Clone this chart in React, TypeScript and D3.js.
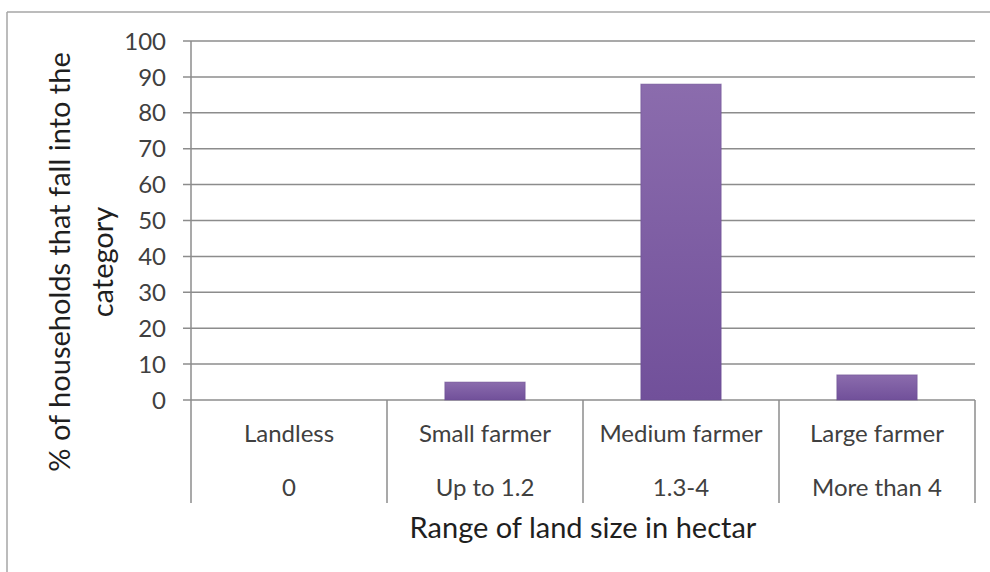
import React from "react";
import * as d3 from "d3";

const categories = ["Landless", "Small farmer", "Medium farmer", "Large farmer"];
const ranges = ["0", "Up to 1.2", "1.3-4", "More than 4"];
const percentages = [0, 5, 88, 7];
const yTicks = [0, 10, 20, 30, 40, 50, 60, 70, 80, 90, 100];

const W = 990;
const H = 572;
const plot = { left: 191, right: 975, top: 41, bottom: 400 };
const FONT = "Lato, 'Open Sans', sans-serif";

export default function App() {
  const x = d3
    .scaleBand<string>()
    .domain(categories)
    .range([plot.left, plot.right])
    .paddingInner(0.59)
    .paddingOuter(0.295);
  const bands = d3.scaleBand<string>().domain(categories).range([plot.left, plot.right]);
  const y = d3.scaleLinear().domain([0, 100]).range([plot.bottom, plot.top]);

  const dividers = [...categories.map((c) => bands(c) as number), plot.right];

  return (
    <svg
      width={W}
      height={H}
      style={{ position: "absolute", left: 0, top: 0, background: "#fff" }}
    >
      <defs>
        <linearGradient id="barFill" x1="0" y1="0" x2="0" y2="1">
          <stop offset="0%" stopColor="#8b6cad" />
          <stop offset="100%" stopColor="#71509a" />
        </linearGradient>
      </defs>
      <rect x={0} y={0} width={W} height={H} fill="#fff" />
      {/* chart area frame (top and left edges) */}
      <line x1={7} x2={W} y1={12} y2={12} stroke="#a6a6a6" strokeWidth={1.5} />
      <line x1={7} x2={7} y1={12} y2={H} stroke="#a6a6a6" strokeWidth={1.5} />

      {/* horizontal gridlines and tick marks */}
      {yTicks.map((t) => (
        <g key={t}>
          <line
            x1={plot.left - 8}
            x2={plot.right}
            y1={y(t)}
            y2={y(t)}
            stroke="#8c8c8c"
            strokeWidth={1.5}
          />
          <text
            x={166}
            y={y(t)}
            dy="0.36em"
            textAnchor="end"
            fontFamily={FONT}
            fontSize={24}
            fill="#404040"
          >
            {t}
          </text>
        </g>
      ))}

      {/* value axis line */}
      <line x1={plot.left} x2={plot.left} y1={plot.top} y2={plot.bottom} stroke="#8c8c8c" strokeWidth={1.5} />

      {/* category dividers below the axis */}
      {dividers.map((d, i) => (
        <line key={i} x1={d} x2={d} y1={plot.bottom} y2={503} stroke="#8c8c8c" strokeWidth={1.5} />
      ))}

      {/* bars */}
      {categories.map((c, i) =>
        percentages[i] > 0 ? (
          <rect
            key={c}
            x={x(c)}
            y={y(percentages[i])}
            width={x.bandwidth()}
            height={y(0) - y(percentages[i])}
            fill="url(#barFill)"
            stroke="#6a4c90"
            strokeOpacity={0.5}
            strokeWidth={1}
          />
        ) : null
      )}

      {/* category labels */}
      {categories.map((c, i) => {
        const cx = (bands(c) as number) + bands.bandwidth() / 2;
        return (
          <g key={c} fontFamily={FONT} fontSize={24} fill="#404040" textAnchor="middle">
            <text x={cx} y={433} dy="0.36em">
              {c}
            </text>
            <text x={cx} y={487} dy="0.36em">
              {ranges[i]}
            </text>
          </g>
        );
      })}

      {/* axis titles */}
      <text
        x={(plot.left + plot.right) / 2}
        y={528}
        dy="0.36em"
        textAnchor="middle"
        fontFamily={FONT}
        fontSize={29}
        fill="#1f1f1f"
      >
        Range of land size in hectar
      </text>
      <g transform="translate(60,262) rotate(-90)" fontFamily={FONT} fontSize={29} fill="#1f1f1f" textAnchor="middle">
        <text x={0} y={0} dy="0.36em">
          % of households that fall into the
        </text>
        <text x={0} y={43} dy="0.36em">
          category
        </text>
      </g>
    </svg>
  );
}
